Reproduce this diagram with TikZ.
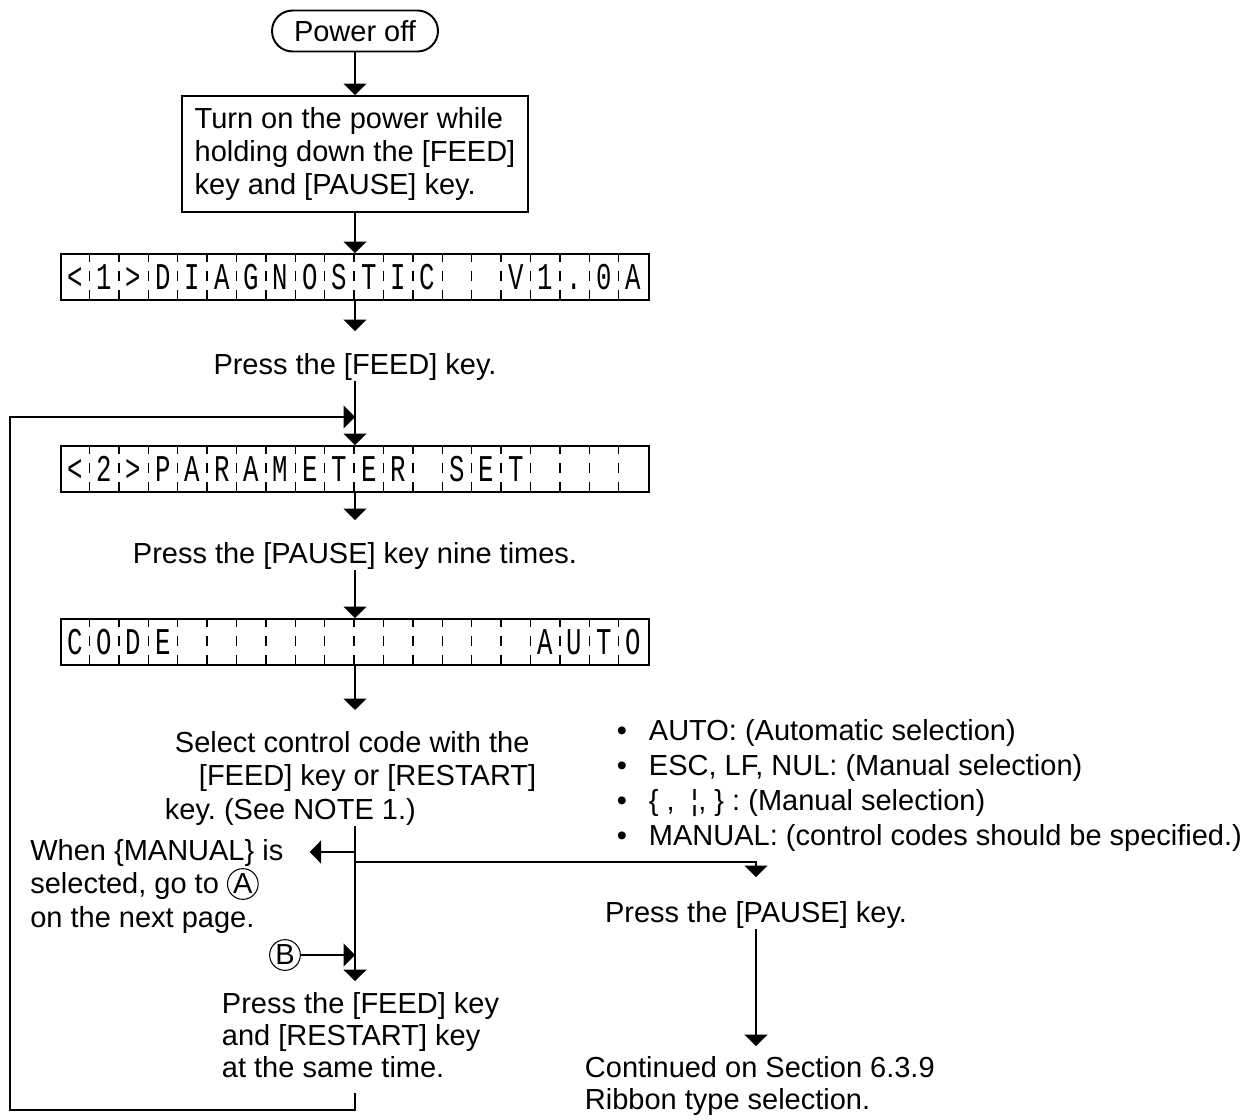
\documentclass[tikz,border=0pt]{standalone}
\usepackage{fontspec}
\setmainfont{Liberation Sans}
\newfontfamily\lcdfont[FakeStretch=0.68]{Liberation Mono}
\usetikzlibrary{arrows.meta,calc}
\frenchspacing

\tikzset{
  arr/.style={-{Triangle[width=13pt,length=6.5pt]}},
  txt/.style={inner sep=0pt, font=\fontsize{16.5pt}{18.8pt}\selectfont},
  txtlow/.style={txt, font=\fontsize{16.5pt}{18.2pt}\selectfont},
  lcdbox/.style={draw, minimum width=11.76cm, minimum height=0.92cm, inner sep=0pt},
  lcdtick/.style={line width=0.75pt, dash pattern=on 5.24pt off 5.24pt},
  lcdchr/.style={anchor=base, inner sep=0pt, font=\lcdfont\fontsize{21.5pt}{21.5pt}\selectfont},
  totext/.style={shorten >=0.42cm},
  ring/.style={draw, circle, line width=0.6pt, inner sep=0.6pt},
}

% 20-cell display: name, characters
\newcommand{\lcdrow}[2]{%
  \foreach \lch [count=\i] in {#2} {
    \ifnum\i<20 \draw[lcdtick] ($(#1.north west)+(\i*29.4,0)$) -- ($(#1.south west)+(\i*29.4,0)$); \fi
    \node[lcdchr] at ($(#1.west)+(\i*29.4-14.7,12.5)$) {\lch};
  }}
\newcommand{\encircle}[1]{\tikz[baseline=(c.base)]\node[ring](c){#1};}
\newcommand{\itm}{\makebox[0.64cm][l]{\textbullet}}

\begin{document}
\begin{tikzpicture}[x=0.02cm, y=-0.02cm, line width=1.1pt]
  \useasboundingbox (0,0) rectangle (1257,1119);
  % start
  \node[draw, txt, rounded corners=0.41cm, minimum width=3.32cm, minimum height=0.82cm] (pwr) at (355,31) {Power off};
  \node[draw, txt, align=left, minimum width=6.92cm, minimum height=2.32cm] (boxA) at (355,154) {Turn on the power while\\holding down the [FEED]\\key and [PAUSE] key.};
  % displays
  \node[lcdbox] (lcdA) at (355,277) {};
  \node[lcdbox] (lcdB) at (355,469) {};
  \node[lcdbox] (lcdC) at (355,642) {};
  \lcdrow{lcdA}{<,1,>,D,I,A,G,N,O,S,T,I,C,{},{},V,1,.,0,A}
  \lcdrow{lcdB}{<,2,>,P,A,R,A,M,E,T,E,R,{},S,E,T,{},{},{},{}}
  \lcdrow{lcdC}{C,O,D,E,{},{},{},{},{},{},{},{},{},{},{},{},A,U,T,O}
  % steps (base = last line)
  \node[txt, anchor=base] (feedA) at (355,374) {Press the [FEED] key.};
  \node[txt, anchor=base] (pauseA) at (355,563) {Press the [PAUSE] key nine times.};
  \node[txt, align=left, anchor=base west] (selA) at (164,819) {\hspace{0.2cm}Select control code with the\\\hspace{0.68cm}[FEED] key or [RESTART]\\key. (See NOTE 1.)};
  \node[txt, align=left, anchor=base west, font=\fontsize{16.5pt}{19.9pt}\selectfont] (codes) at (616,845) {\itm AUTO: (Automatic selection)\\\itm ESC, LF, NUL: (Manual selection)\\\itm \{ ,\ \ ¦, \} : (Manual selection)\\\itm MANUAL: (control codes should be specified.)};
  \node[txt, align=left, anchor=base west] (manA) at (30,927) {When \{MANUAL\} is\\selected, go to \encircle{A}\\on the next page.};
  \node[txt, ring] (circB) at (285,955) {B};
  \node[txtlow, align=left, anchor=base west] (feedB) at (221,1077) {Press the [FEED] key\\and [RESTART] key\\at the same time.};
  \node[txt, anchor=base] (pauseB) at (756,922) {Press the [PAUSE] key.};
  \node[txtlow, align=left, anchor=base west] (contA) at (584,1109) {Continued on Section 6.3.9\\Ribbon type selection.};
  % main line
  \draw[arr] (pwr) -- (boxA);
  \draw[arr] (boxA) -- (lcdA);
  \draw[arr, totext] (lcdA) -- (feedA.north);
  \draw[arr] (feedA.south) -- (lcdB);
  \draw[arr, totext] (lcdB) -- (pauseA.north);
  \draw[arr] (pauseA.south) -- (lcdC);
  \draw[arr, totext] (lcdC) -- (selA.north -| lcdC);
  \draw[arr, shorten >=0.2cm] (selA.south -| lcdC) -- (feedB.north -| lcdC);
  % branches
  \coordinate (forkL) at (355,852);
  \coordinate (forkR) at (355,862);
  \draw[arr, shorten >=0.52cm] (forkL) -- (forkL -| manA.east);
  \draw[arr, shorten >=0.46cm] (forkR) -| (pauseB.north);
  \draw[arr] (circB) -- (circB -| lcdC);
  \draw[arr, shorten >=0.18cm] (pauseB.south) -- (pauseB.south |- contA.north);
  % loop back
  \coordinate (loopout) at (355,1093);
  \coordinate (loopcorner) at (10,1110);
  \coordinate (loopin) at (355,417);
  \draw[arr] (loopout) |- (loopcorner) |- (loopin);
\end{tikzpicture}
\end{document}
